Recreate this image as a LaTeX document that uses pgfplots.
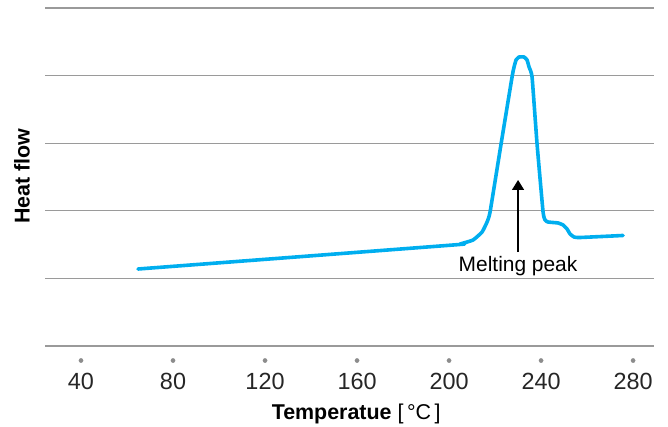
\documentclass[border=0pt]{standalone}
\usepackage{fontspec}
\setmainfont{Liberation Sans}
\usepackage{pgfplots}
\pgfplotsset{compat=1.18}
\usetikzlibrary{arrows.meta}
\definecolor{curve}{HTML}{00AEEF}
\definecolor{gridc}{HTML}{9A9A9A}
\definecolor{dotc}{HTML}{8C8C8C}
\begin{document}
\fontsize{21}{25}\selectfont
\begin{tikzpicture}
\useasboundingbox (-45bp,-81bp) rectangle (623bp,346bp);
\begin{axis}[
  at={(0,0)}, anchor=south west,
  scale only axis, width=609bp, height=338bp,
  xmin=24.35, xmax=289.1, ymin=0, ymax=5,
  axis line style={draw=none}, tick style={draw=none}, clip=false,
  ymajorgrids, ytick={0,1,2,3,4,5}, yticklabels={},
  grid style={gridc, line width=1.2bp},
  xtick={40,80,...,280},
  major tick length=0pt,
  /pgf/number format/assume math mode=true,
  xticklabel style={font=\fontsize{23.5}{28}\selectfont, text=black!85, anchor=base, yshift=-43bp},
  xlabel={\textbf{Temperatue} [\,°C\,]},
  xlabel style={at={(axis description cs:0.511,-0.216)}, anchor=base, font=\fontsize{21.5}{25}\selectfont},
  ylabel={\textbf{Heat flow}},
  ylabel style={at={(axis description cs:-0.038,0.503)}, anchor=center, font=\fontsize{21.5}{25}\selectfont},
]
\draw[gridc, line width=1.2bp] (axis cs:24.35,0) -- (axis cs:289.1,0);
\draw[gridc, line width=1.2bp] (axis cs:24.35,5) -- (axis cs:289.1,5);
\addplot[only marks, mark=*, mark size=2.1bp, dotc] coordinates {
(40,-0.215) (80,-0.215) (120,-0.215) (160,-0.215) (200,-0.215) (240,-0.215) (280,-0.215)};
\addplot[curve, line width=3.6bp, line join=round, line cap=round, smooth, tension=0.25] coordinates {
(64.78,1.139)
(201.74,1.494)
(204.78,1.509)
(210.43,1.568)
(214.35,1.686)
(216.52,1.834)
(217.83,1.982)
(222.61,2.988)
(227.39,3.979)
(228.26,4.127)
(229.13,4.231)
(230.43,4.275)
(232.61,4.275)
(233.91,4.231)
(234.78,4.127)
(236.09,3.979)
(238.26,2.988)
(240.87,1.982)
(241.74,1.864)
(243.04,1.834)
(247.39,1.820)
(249.57,1.790)
(251.30,1.731)
(252.61,1.657)
(254.35,1.612)
(256.96,1.605)
(275.65,1.635)
};
\draw[black, line width=1.3bp, -{Triangle[width=12bp,length=10bp]}] (axis cs:230,1.39) -- (axis cs:230,2.456);
\node[anchor=base, font=\fontsize{21}{25}\selectfont] at (axis cs:230,1.095) {Melting peak};
\end{axis}
\end{tikzpicture}
\end{document}
